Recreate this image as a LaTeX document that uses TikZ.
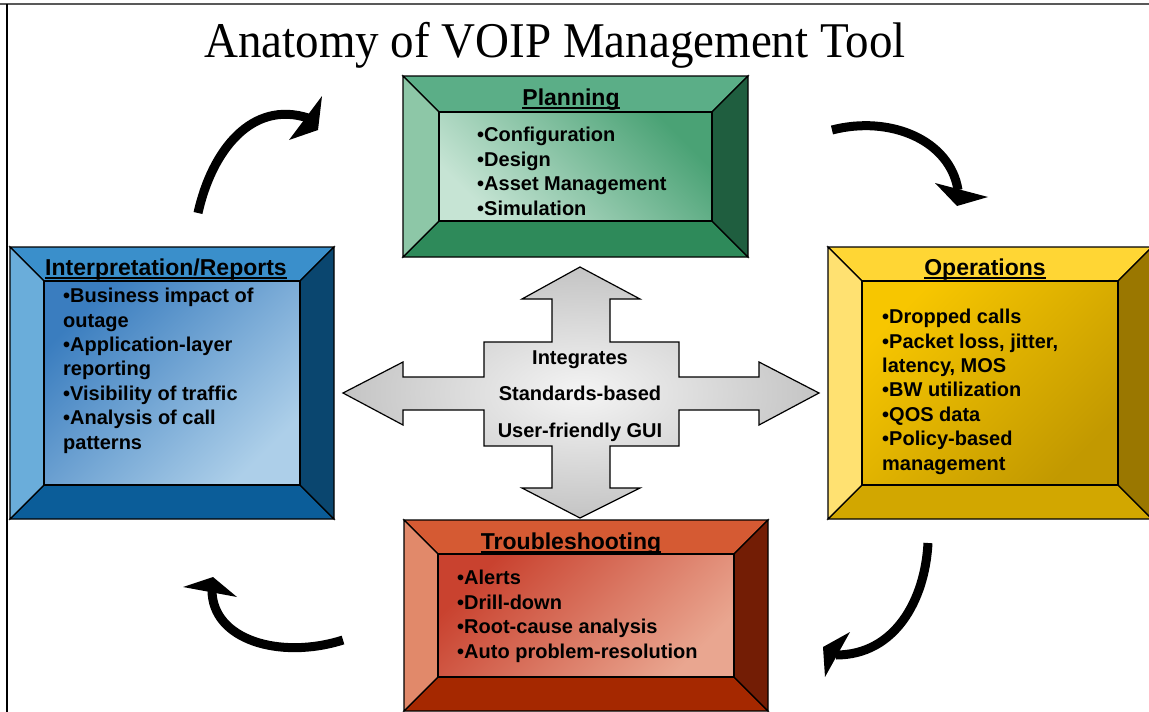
\documentclass[tikz,border=0pt]{standalone}
\usepackage{fontspec}
\setmainfont{Liberation Sans}
\newfontfamily\titlefont[FakeStretch=0.94]{Liberation Serif}
\usetikzlibrary{calc}

% bevel colours: top, left, right, bottom, inner gradient ends
\definecolor{plantop}{HTML}{5BAE87}
\definecolor{planlft}{HTML}{8DC7A7}
\definecolor{planrgt}{HTML}{1F5E3F}
\definecolor{planbot}{HTML}{2E8A5A}
\definecolor{planhi}{HTML}{4AA275}
\definecolor{planlo}{HTML}{C6E4D4}
\definecolor{intptop}{HTML}{3A8FCB}
\definecolor{intplft}{HTML}{6AADDA}
\definecolor{intprgt}{HTML}{0A466F}
\definecolor{intpbot}{HTML}{0B5D99}
\definecolor{intphi}{HTML}{3A7DBF}
\definecolor{intplo}{HTML}{ADCFE9}
\definecolor{opstop}{HTML}{FFD634}
\definecolor{opslft}{HTML}{FFE171}
\definecolor{opsrgt}{HTML}{9A7700}
\definecolor{opsbot}{HTML}{D2A700}
\definecolor{opshi}{HTML}{F7C600}
\definecolor{opslo}{HTML}{C29900}
\definecolor{trbltop}{HTML}{D55A33}
\definecolor{trbllft}{HTML}{E1896A}
\definecolor{trblrgt}{HTML}{731D05}
\definecolor{trblbot}{HTML}{A52800}
\definecolor{trblhi}{HTML}{C9422F}
\definecolor{trbllo}{HTML}{E9A690}
\definecolor{hubcore}{HTML}{F4F4F4}
\definecolor{hubmid}{HTML}{C4C4C4}
\definecolor{hubrim}{HTML}{A4A4A4}

\pgfdeclareradialshading{hubglow}{\pgfpoint{0bp}{0bp}}{%
  color(0bp)=(hubcore); color(25bp)=(hubmid); color(50bp)=(hubrim)}

% underlined box heading
\newcommand\ulhead[1]{\sbox0{#1}\rlap{\rule[-4pt]{\wd0}{2pt}}\usebox0}

% framed panel: colour prefix, upper left, lower right, bevel depth
\newcommand\bevelframe[6]{%
  \filldraw[bevel, fill=#1top] (#2,#3) -- (#4,#3) -- (#4-#6,#3+#6) -- (#2+#6,#3+#6) -- cycle;
  \filldraw[bevel, fill=#1bot] (#2,#5) -- (#4,#5) -- (#4-#6,#5-#6) -- (#2+#6,#5-#6) -- cycle;
  \filldraw[bevel, fill=#1lft] (#2,#3) -- (#2+#6,#3+#6) -- (#2+#6,#5-#6) -- (#2,#5) -- cycle;
  \filldraw[bevel, fill=#1rgt] (#4,#3) -- (#4-#6,#3+#6) -- (#4-#6,#5-#6) -- (#4,#5) -- cycle;
  \shadedraw[bevel, #1inner] (#2+#6,#3+#6) rectangle (#4-#6,#5-#6);
}

\begin{document}
\begin{tikzpicture}[x=1pt, y=-1pt,
  bevel/.style={draw=black, line width=1.2},
  planinner/.style={top color=planhi, bottom color=planlo, shading angle=-45},
  intpinner/.style={top color=intphi, bottom color=intplo, shading angle=45},
  opsinner/.style={top color=opshi, bottom color=opslo, shading angle=45},
  trblinner/.style={top color=trblhi, bottom color=trbllo, shading angle=45},
  head/.style={font=\fontsize{23}{26}\selectfont\bfseries, anchor=base, inner sep=0pt},
  % lists are placed by the baseline of their last line
  items/.style={font=\fontsize{20}{24.4}\selectfont\bfseries, align=left, anchor=base west, inner sep=0pt},
  hubarrow/.style={draw=black, line width=1.2, shading=hubglow},
  curvy/.style={line width=9, line cap=butt},
]
\fill[white] (0,0) rectangle (1149,712);
\useasboundingbox (0,0) rectangle (1149,712);
\draw[line width=2, black!65] (0,4) -- (1149,4);
\draw[line width=1.5] (7,4) -- (7,712);

\node[font=\titlefont\fontsize{50}{55}\selectfont, anchor=base, inner sep=0pt] (title) at (555,57)
  {Anatomy of VOIP Management Tool};

% four panels
\bevelframe{plan}{403}{76}{748}{257}{36}
\bevelframe{intp}{10}{247}{334}{519}{34}
\bevelframe{ops}{828}{247}{1152}{519}{34}
\bevelframe{trbl}{404}{520}{768}{711}{34}

\node[head] (planhead) at (571,105) {\ulhead{Planning}};
\node[items] (planlist) at (477,215)
  {\textbullet Configuration\\\textbullet Design\\\textbullet Asset Management\\\textbullet Simulation};

\node[head] (intphead) at (166,275) {\ulhead{Interpretation/Reports}};
\node[items] (intplist) at (63,449)
  {\textbullet Business impact of\\outage\\\textbullet Application-layer\\reporting\\
   \textbullet Visibility of traffic\\\textbullet Analysis of call\\patterns};

\node[head] (opshead) at (985,275) {\ulhead{Operations}};
\node[items] (opslist) at (882,470)
  {\textbullet Dropped calls\\\textbullet Packet loss, jitter,\\latency, MOS\\\textbullet BW utilization\\
   \textbullet QOS data\\\textbullet Policy-based\\management};

\node[head] (trblhead) at (571,549) {\ulhead{Troubleshooting}};
\node[items] (trbllist) at (457,658)
  {\textbullet Alerts\\\textbullet Drill-down\\\textbullet Root-cause analysis\\\textbullet Auto problem-resolution};

% four-way arrow in the middle
\shadedraw[hubarrow] (580,267) -- (640,299) -- (610,299) -- (610,342) -- (679,342) -- (679,377)
  -- (759,377) -- (759,362) -- (819,393) -- (759,425) -- (759,410) -- (679,410) -- (679,446)
  -- (610,446) -- (610,488) -- (640,488) -- (580,518) -- (522,488) -- (552,488) -- (552,446)
  -- (484,446) -- (484,410) -- (403,410) -- (403,425) -- (343,393) -- (403,362) -- (403,377)
  -- (484,377) -- (484,342) -- (552,342) -- (552,299) -- (522,299) -- cycle;
\node[font=\fontsize{20}{36.5}\selectfont\bfseries, align=center, anchor=base, inner sep=0pt] (hub)
  at (580,437) {Integrates\\Standards-based\\User-friendly GUI};

% curved cycle arrows
\coordinate (i2p) at (198,213);
\coordinate (i2pend) at (308,118);
\coordinate (p2o) at (832,130);
\coordinate (p2oend) at (958,190);
\coordinate (o2t) at (928,543);
\coordinate (o2tend) at (836,655);
\coordinate (t2i) at (343,640);
\coordinate (t2iend) at (212,590);

\draw[curvy] (i2p) .. controls (212,150) and (252,100) .. (i2pend);
\fill (322,96) -- (289,140) -- (318,130) -- cycle;
\draw[curvy] (p2o) .. controls (890,115) and (950,140) .. (p2oend);
\fill (935,183) -- (988,197) -- (957,206) -- cycle;
\draw[curvy] (o2t) .. controls (925,600) and (895,655) .. (o2tend);
\fill (823,647) -- (850,632) -- (825,677) -- cycle;
\draw[curvy] (t2i) .. controls (280,660) and (212,640) .. (t2iend);
\fill (183,587) -- (213,577) -- (237,597) -- cycle;
\end{tikzpicture}
\end{document}
